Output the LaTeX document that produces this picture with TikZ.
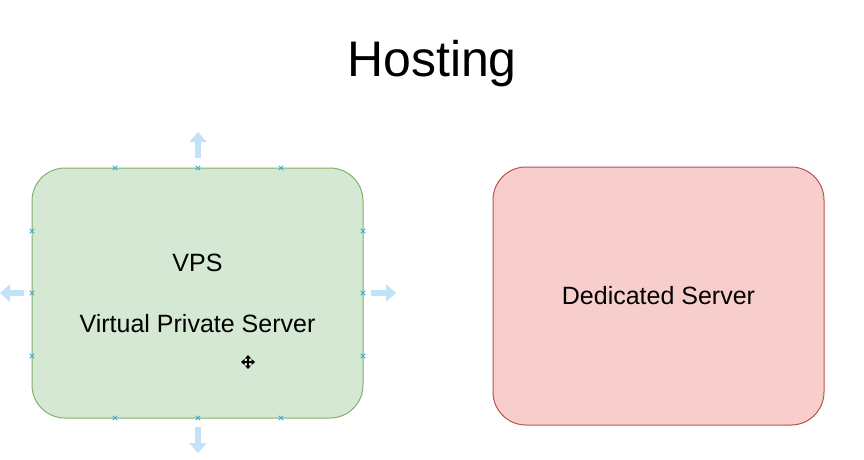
\documentclass[tikz,border=0pt]{standalone}
\usepackage{fontspec}
\setmainfont{Liberation Sans}
\usetikzlibrary{arrows.meta}
\definecolor{vpsfill}{HTML}{D5E8D4}
\definecolor{vpsline}{HTML}{82B366}
\definecolor{dedfill}{HTML}{F8CECC}
\definecolor{dedline}{HTML}{B85450}
\definecolor{handle}{HTML}{3BA9DB}
\definecolor{hintarrow}{HTML}{C2E2F8}
\tikzset{
  box/.style={draw, line width=1pt, rounded corners=33pt, align=center,
    font=\fontsize{25}{61}\selectfont, inner sep=0pt},
  xmark/.style={draw=handle, line width=0.9pt},
  hint/.style={draw=hintarrow, line width=6pt,
    -{Triangle[length=10pt,width=17pt]}},
  cursorarm/.style={draw=black, line width=1.8pt,
    -{Triangle[length=3.5pt,width=6pt]}}
}
\begin{document}
\begin{tikzpicture}[x=1pt,y=-1pt]
\useasboundingbox (0,0) rectangle (864,459);
\fill[white] (0,0) rectangle (864,459);

\node[font=\fontsize{50}{60}\selectfont, anchor=base] (title) at (432,76) {Hosting};

\node[box, fill=vpsfill, draw=vpsline, minimum width=331pt, minimum height=250pt]
  (vps) at (197.5,293) {VPS\\Virtual Private Server};
\node[box, fill=dedfill, draw=dedline, minimum width=331pt, minimum height=258pt]
  (ded) at (658.5,296) {Dedicated Server};

% connection handles
\foreach \px/\py in {115/168,198/168,281/168,115/418,198/418,281/418,
                     32/231,32/293,32/356,363/231,363/293,363/356}{
  \draw[xmark] (\px-2.2,\py-2.2) -- (\px+2.2,\py+2.2)
               (\px-2.2,\py+2.2) -- (\px+2.2,\py-2.2);
}

% hint arrows
\coordinate (tS) at (198,158); \coordinate (tE) at (198,132);
\coordinate (bS) at (198,427); \coordinate (bE) at (198,453);
\coordinate (lS) at (24,293);  \coordinate (lE) at (0,293);
\coordinate (rS) at (371,293); \coordinate (rE) at (396,293);
\draw[hint] (tS) -- (tE);
\draw[hint] (bS) -- (bE);
\draw[hint] (lS) -- (lE);
\draw[hint] (rS) -- (rE);

% move cursor
\coordinate (cur) at (248,362);
\foreach \dx/\dy in {1/0,-1/0,0/1,0/-1}{
  \draw[cursorarm] (cur) -- ++(7*\dx,7*\dy);
}
\end{tikzpicture}
\end{document}
